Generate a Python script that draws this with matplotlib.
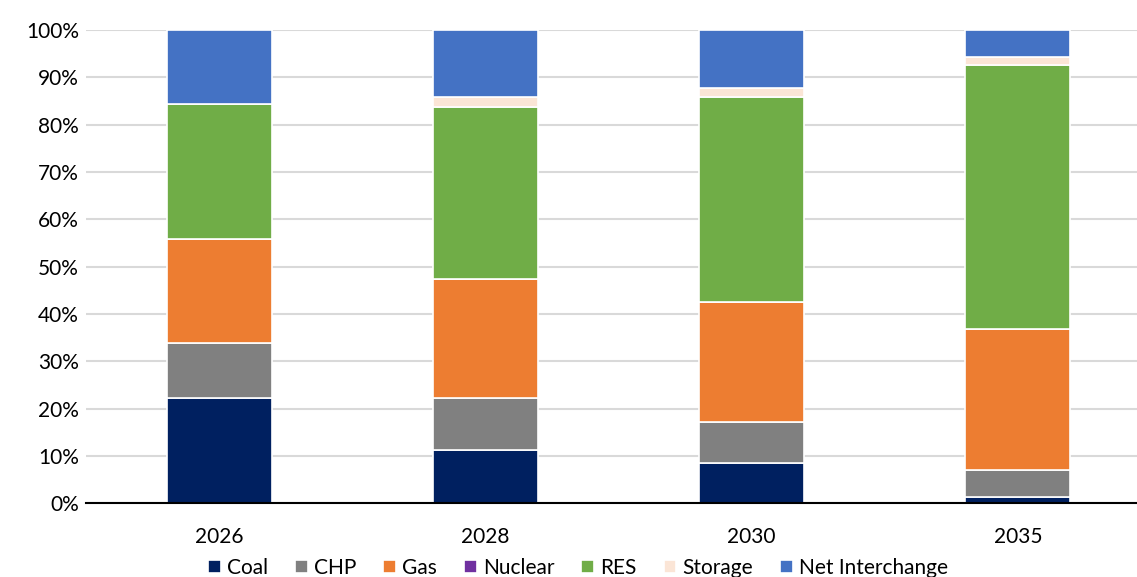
import matplotlib
matplotlib.use("Agg")
from matplotlib import pyplot as plt
from matplotlib.ticker import PercentFormatter

plt.rcParams['font.family'] = ['Lato', 'DejaVu Sans']

years = ["2026", "2028", "2030", "2035"]
coal = [22.2, 11.2, 8.5, 1.3]
chp = [11.6, 11.0, 8.6, 5.7]
gas = [22.0, 25.2, 25.4, 29.8]
nuclear = [0, 0, 0, 0]
res = [28.6, 36.3, 43.3, 55.8]
storage = [0, 2.1, 1.9, 1.7]
net = [15.6, 14.2, 12.3, 5.7]

names = ["Coal", "CHP", "Gas", "Nuclear", "RES", "Storage", "Net Interchange"]
series = [coal, chp, gas, nuclear, res, storage, net]
colors = ["#002060", "#808080", "#ED7D31", "#7030A0", "#70AD47", "#FBE5D6", "#4472C4"]

fig = plt.figure(figsize=(11.37, 5.77), dpi=100)
ax = fig.add_axes([0.0756, 0.128, 0.9367, 0.8198])

x = range(len(years))
bottom = [0.0] * len(years)
for name, vals, c in zip(names, series, colors):
    ax.bar(x, vals, bottom=bottom, width=0.394, color=c, edgecolor="white",
           linewidth=1.2, label=name, zorder=3)
    bottom = [b + v for b, v in zip(bottom, vals)]

ax.set_xlim(-0.5, 3.5)
ax.set_ylim(0, 100)
ax.set_yticks(range(0, 101, 10))
ax.yaxis.set_major_formatter(PercentFormatter(decimals=0))
ax.set_xticks(list(x))
ax.set_xticklabels(years)
ax.tick_params(axis="both", length=0, labelsize=15, colors="black")
ax.tick_params(axis="x", pad=17)
ax.tick_params(axis="y", pad=5)
ax.yaxis.grid(True, color="#d9d9d9", linewidth=1.5, zorder=0)
for s in ["top", "right", "left"]:
    ax.spines[s].set_visible(False)
ax.spines["bottom"].set_linewidth(1.5)
ax.spines["bottom"].set_zorder(4)

ax.legend(loc="upper center", bbox_to_anchor=(0.462, -0.098), ncol=7, frameon=False,
          fontsize=15, handlelength=0.6, handleheight=0.6, handletextpad=0.3,
          columnspacing=1.3, borderaxespad=0)

plt.savefig("out.png", dpi=100)
